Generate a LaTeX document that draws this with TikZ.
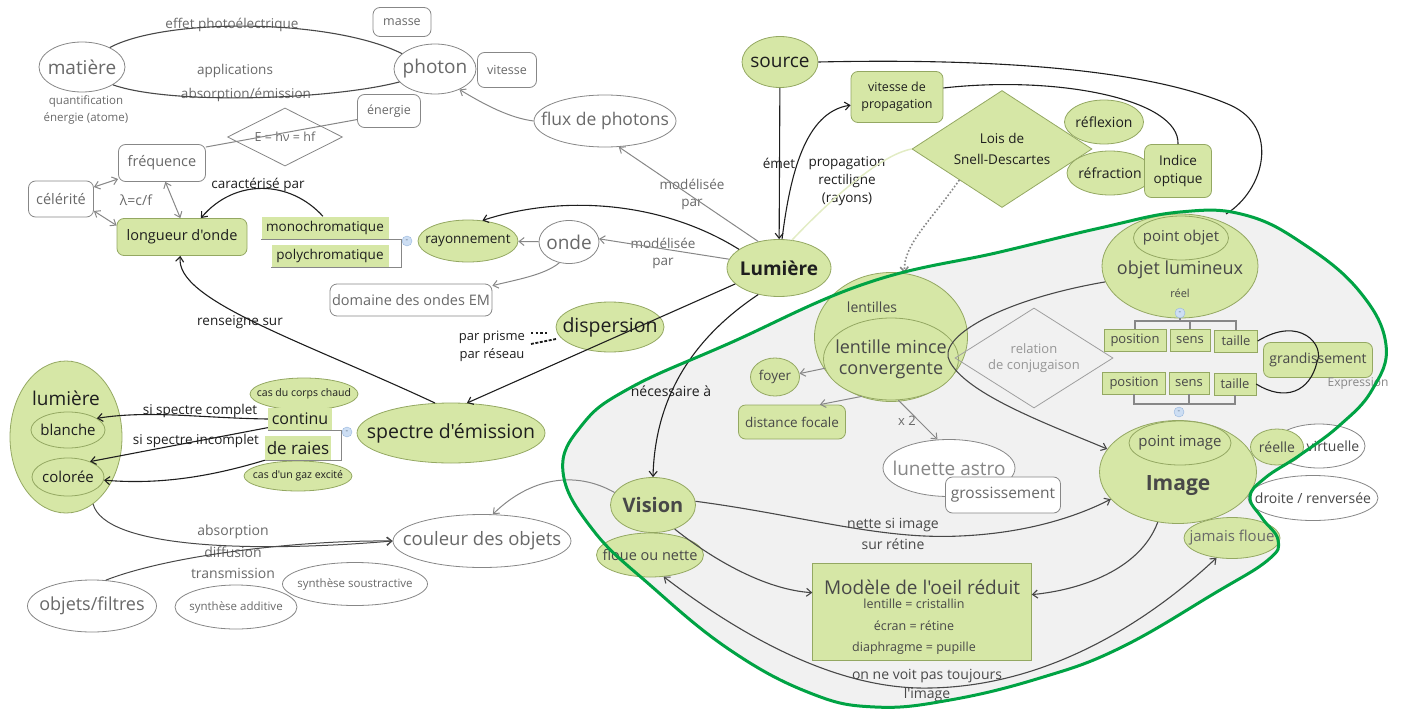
\documentclass[tikz,border=0pt]{standalone}
\usepackage{fontspec}
\setmainfont{Open Sans}[Ligatures=TeXOff]
\usetikzlibrary{shapes.geometric,arrows.meta}

\definecolor{leaf}{RGB}{214,231,166}
\definecolor{leafline}{RGB}{148,168,98}
\definecolor{ink}{RGB}{30,30,30}
\definecolor{soft}{RGB}{72,72,72}
\definecolor{ghostline}{RGB}{135,135,135}
\definecolor{ghosttext}{RGB}{105,105,105}
\definecolor{zonefill}{RGB}{241,241,241}
\definecolor{zoneline}{RGB}{0,163,68}
\definecolor{knobfill}{RGB}{205,222,243}
\definecolor{knobline}{RGB}{150,182,222}
\definecolor{palegreen}{RGB}{226,236,196}

\begin{document}
\begin{tikzpicture}[x=1pt, y=-1pt, >={Straight Barb[length=5pt,width=8pt]},
  every node/.style={text=ink, align=center, inner sep=0pt},
  fsz/.style={font=\fontsize{#1}{#1}\selectfont},
  tight/.style={inner xsep=-80pt, inner ysep=-30pt},
  leaf/.style={ellipse, tight, draw=leafline, fill=leaf, line width=0.8pt},
  leafbox/.style={rectangle, rounded corners=7pt, draw=leafline, fill=leaf, line width=0.8pt},
  leafrect/.style={rectangle, fill=leaf},
  leafdiam/.style={diamond, tight, draw=leafline, fill=leaf, line width=0.8pt},
  ghost/.style={ellipse, tight, draw=ghostline, fill=white, text=ghosttext, line width=0.8pt},
  ghostbox/.style={rectangle, rounded corners=7pt, draw=ghostline, fill=white, text=ghosttext, line width=0.8pt},
  note/.style={text=ghosttext},
  knob/.style={circle, draw=knobline, fill=knobfill, minimum size=10pt, fsz=8, text=knobline!60!black},
  lnk/.style={draw=ink, line width=1.1pt},
  glnk/.style={draw=ghostline, line width=1pt},
  brk/.style={draw=ghostline, line width=1.2pt}
]
  \useasboundingbox (0,0) rectangle (1402,709);

  % optics zone (filled first, outline drawn last)
  \fill[zonefill, save path=\zonepath] plot[smooth cycle, tension=0.7] coordinates {
    (563,472) (582,425) (630,388) (730,343) (867,283) (1000,252) (1100,228)
    (1180,212) (1245,215) (1305,245) (1360,292) (1386,345) (1372,390)
    (1340,425) (1300,455) (1265,478) (1250,497) (1262,518) (1278,540)
    (1268,560) (1215,593) (1120,648) (1040,678) (950,700) (875,707)
    (810,693) (730,650) (650,585) (593,530)};
  \coordinate (zonetop) at (1226,214);

  % photon / matiere
  \node[ghost, minimum width=86, minimum height=50, fsz=19] (matiere) at (82,67) {matière};
  \node[ghost, minimum width=82, minimum height=50, fsz=19] (photon) at (435,69) {photon};
  \node[ghostbox, minimum width=58, minimum height=29, fsz=12.5] (masse) at (402,22) {masse};
  \node[ghostbox, minimum width=59, minimum height=35, fsz=12.5] (vitesse) at (507,70) {vitesse};
  \node[ghostbox, minimum width=63, minimum height=33, fsz=12.5] (energie) at (389,111) {énergie};
  \node[note, font=\fontsize{11.5}{17}\selectfont] (quantif) at (86,110) {quantification\\énergie (atome)};
  \node[note, fsz=13.5] (effet) at (232,25) {effet photoélectrique};
  \node[note, fsz=13.5] (applis) at (235,71) {applications};
  \node[note, fsz=13.5] (absem) at (246,95) {absorption/émission};
  \draw[lnk, draw=soft] (matiere.35) .. controls (165,18) and (330,18) .. (photon.155);
  \draw[lnk, draw=soft] (matiere.-30) .. controls (170,105) and (330,100) .. (photon.-160);

  % frequence, celerite, longueur d'onde
  \node[diamond, tight, draw=ghostline, fill=white, text=ghosttext, line width=0.8pt,
        minimum width=115, minimum height=58, fsz=12.5] (formule) at (285,137) {E = hν = hf};
  \node[ghostbox, minimum width=87, minimum height=37, fsz=14.5] (frequence) at (162,163) {fréquence};
  \draw[glnk] (frequence.20) -- (energie.195);
  \node[ghostbox, minimum width=65, minimum height=36, fsz=14.5] (celerite) at (61,199) {célérité};
  \node[note, fsz=14] (lambda) at (136,200) {λ=c/f};
  \node[leafbox, minimum width=130, minimum height=37, fsz=14.5] (longueur) at (182,237) {longueur d'onde};
  \draw[glnk, <->] (celerite.20) -- (frequence.200);
  \draw[glnk, <->] (celerite.-20) -- (longueur.170);
  \draw[glnk, <->] (frequence.-80) -- (longueur.95);

  % rayonnement and its kinds
  \node[leafrect, minimum width=127, minimum height=23, fsz=13.5] (mono) at (325,228) {monochromatique};
  \node[leafrect, minimum width=117, minimum height=22, fsz=13.5] (poly) at (330,256) {polychromatique};
  \node[knob] (knobray) at (407,241) {-};
  \draw[brk] (mono.south west) -| (knobray.west |- poly.south) -- (poly.south west);
  \node[fsz=13.5] (caract) at (258,185) {caractérisé par};
  \draw[lnk, ->] (mono.100) .. controls (290,180) and (235,178) .. (longueur.45);
  \node[leaf, minimum width=100, minimum height=42, fsz=13.5] (rayon) at (468,241) {rayonnement};
  \node[ghost, minimum width=60, minimum height=43, fsz=19] (onde) at (569,242) {onde};
  \node[ghostbox, minimum width=162, minimum height=32, fsz=14.5] (domaine) at (411,300) {domaine des ondes EM};
  \draw[glnk, ->] (onde) -- (rayon);
  \draw[glnk, ->] (onde.-115) .. controls (545,275) and (515,280) .. (domaine.10);

  % flux de photons
  \node[ghost, minimum width=142, minimum height=52, fsz=17.5] (flux) at (605,121) {flux de photons};
  \draw[glnk, ->] (flux.west) .. controls (510,118) and (485,105) .. (photon.-40);

  % Lumiere and source
  \node[leaf, minimum width=104, minimum height=57, font=\bfseries\fontsize{19}{19}\selectfont] (lumiere) at (779,268) {Lumière};
  \node[note, font=\fontsize{13.5}{17}\selectfont] (modonde) at (663,253) {modélisée\\par};
  \node[note, font=\fontsize{13.5}{17}\selectfont] (modflux) at (692,194) {modélisée\\par};
  \draw[glnk, ->] (lumiere.170) -- (onde.6);
  \draw[glnk, ->] (lumiere.128) -- (flux.-62);
  \draw[lnk, ->] (lumiere.155) .. controls (660,200) and (560,195) .. (rayon.55);
  \node[leaf, minimum width=76, minimum height=51, fsz=19] (source) at (780,62) {source};
  \node[fsz=13.5] (emet) at (779,163) {émet};
  \draw[lnk, ->] (source) -- (lumiere);
  \node[leafbox, minimum width=92, minimum height=51, font=\fontsize{12.5}{17}\selectfont] (vitprop) at (897,97) {vitesse de\\propagation};
  \draw[lnk, ->] (lumiere.84) .. controls (790,175) and (805,112) .. (vitprop.190);
  \node[font=\fontsize{13.5}{18}\selectfont] (rectil) at (847,181) {propagation\\rectiligne\\(rayons)};

  % Snell-Descartes
  \node[leafdiam, minimum width=180, minimum height=117, font=\fontsize{13.5}{21}\selectfont] (snell) at (1002,149) {Lois de\\Snell-Descartes};
  \draw[palegreen, line width=1.5pt] (lumiere.65) .. controls (830,200) and (880,155) .. (snell.west);
  \node[leaf, minimum width=79, minimum height=44, fsz=14] (reflexion) at (1104,122) {réflexion};
  \node[leaf, minimum width=86, minimum height=44, fsz=14] (refraction) at (1110,173) {réfraction};
  \node[leafbox, minimum width=67, minimum height=53, font=\fontsize{13.5}{18}\selectfont] (indice) at (1178,171) {Indice\\optique};
  \draw[lnk] (vitprop.11) .. controls (1060,75) and (1180,100) .. (indice.north);
  \draw[lnk] (source.east) .. controls (1000,58) and (1150,70) .. (1230,105)
    .. controls (1280,127) and (1265,190) .. (zonetop);

  % lenses
  \node[leaf, minimum width=153, minimum height=129] (lentilles) at (891,337) {};
  \node[fsz=14, text=soft] (lentnom) at (872,307) {lentilles};
  \node[leaf, minimum width=135, minimum height=82, font=\fontsize{18}{21}\selectfont, text=soft] (mince) at (891,359) {lentille mince\\convergente};
  \draw[ghostline, dotted, line width=1.6pt, ->] (snell.-144) .. controls (930,222) and (903,245) .. (lentilles.78);
  \node[leaf, minimum width=49, minimum height=38, fsz=13.5, text=soft] (foyer) at (775,377) {foyer};
  \node[leafbox, minimum width=107, minimum height=34, fsz=13.5, text=soft] (focale) at (792,422) {distance focale};
  \draw[glnk, ->] (mince.188) -- (foyer.8);
  \draw[glnk, ->] (mince.232) -- (focale.32);
  \node[ghost, minimum width=132, minimum height=57, fsz=19, text=ghosttext!80] (lunette) at (949,468) {lunette astro};
  \node[ghostbox, minimum width=115, minimum height=36, fsz=15.5] (grossi) at (1003,495) {grossissement};
  \node[note, fsz=13] (fois) at (907,421) {x 2};
  \draw[glnk, ->] (mince.-80) -- (lunette.112);
  \node[diamond, tight, draw=ghostline!80, text=ghosttext!70, line width=0.8pt, minimum width=158,
        minimum height=100, font=\fontsize{13}{16}\selectfont] (conjug) at (1034,358) {relation\\de conjugaison};

  % objet lumineux
  \node[leaf, minimum width=156, minimum height=104] (objet) at (1180,266) {};
  \node[leaf, minimum width=95, minimum height=44, fsz=15, text=soft] (pointobj) at (1181,238) {point objet};
  \node[fsz=18, text=soft] (objetnom) at (1180,270) {objet lumineux};
  \node[fsz=11, text=soft] (reel) at (1180,293) {réel};
  \node[knob] (knobobj) at (1180,313) {-};
  \node[leafrect, draw=leafline, minimum width=62, minimum height=22, fsz=13, text=soft] (pos1) at (1135,340) {position};
  \node[leafrect, draw=leafline, minimum width=40, minimum height=22, fsz=13, text=soft] (sens1) at (1190,340) {sens};
  \node[leafrect, draw=leafline, minimum width=43, minimum height=22, fsz=13, text=soft] (taille1) at (1236,341) {taille};
  \node[leafrect, draw=leafline, minimum width=63, minimum height=22, fsz=13, text=soft] (pos2) at (1134,383) {position};
  \node[leafrect, draw=leafline, minimum width=40, minimum height=22, fsz=13, text=soft] (sens2) at (1189,383) {sens};
  \node[leafrect, draw=leafline, minimum width=42, minimum height=22, fsz=13, text=soft] (taille2) at (1235,384) {taille};
  \coordinate (bar1) at (1180,321);
  \coordinate (bar2) at (1179,404);
  \draw[brk] (knobobj.south) -- (bar1);
  \draw[brk] (pos1.north) |- (bar1) -| (taille1.north);
  \draw[brk] (sens1.north) -- (sens1.north |- bar1);
  \draw[brk] (pos2.south) |- (bar2) -| (taille2.south);
  \draw[brk] (sens2.south) -- (sens2.south |- bar2);
  \node[knob] (knobimg) at (1179,412) {-};
  \node[leafbox, minimum width=109, minimum height=35, fsz=14, text=soft] (grandis) at (1318,360) {grandissement};
  \draw[lnk] (taille1.east) .. controls (1300,315) and (1325,345) .. (1317,362)
    .. controls (1310,392) and (1285,402) .. (taille2.east);
  \node[note, fsz=12, text=ghosttext!80] (express) at (1358,384) {Expression};

  % image
  \node[leaf, minimum width=157, minimum height=103] (image) at (1178,472) {};
  \node[leaf, minimum width=102, minimum height=44, fsz=15, text=soft] (pointimg) at (1180,443) {point image};
  \node[font=\bfseries\fontsize{21}{21}\selectfont, text=soft] (imagenom) at (1178,486) {Image};
  \node[ghost, minimum width=92, minimum height=44] (virtuelle) at (1319,446) {};
  \node[leaf, minimum width=53, minimum height=36, fsz=14, text=soft] (reelle) at (1277,447) {réelle};
  \node[fsz=14, text=soft] (virtnom) at (1333,446) {virtuelle};
  \node[ghost, minimum width=130, minimum height=45, fsz=14, text=soft] (droite) at (1313,498) {droite / renversée};
  \node[leaf, minimum width=96, minimum height=41, fsz=15, text=ghosttext] (jamais) at (1232,538) {jamais floue};
  \draw[lnk, draw=soft, ->] (objet.192) .. controls (1000,300) and (935,338) .. (950,362)
    .. controls (968,395) and (1050,425) .. (image.162);

  % vision and the eye model
  \node[leaf, minimum width=85, minimum height=55, font=\bfseries\fontsize{20}{20}\selectfont, text=soft] (vision) at (653,505) {Vision};
  \node[leaf, minimum width=107, minimum height=44, fsz=14.5, text=soft] (floue) at (650,555) {floue ou nette};
  \node[leafrect, draw=leafline, minimum width=219, minimum height=97] (modele) at (922,612) {};
  \node[fsz=19, text=soft] (modtitre) at (922,587) {Modèle de l'oeil réduit};
  \node[font=\fontsize{12.5}{21.5}\selectfont, text=soft] (modlignes) at (914,627) {lentille = cristallin\\écran = rétine\\diaphragme = pupille};
  \draw[lnk, ->] (lumiere.-128) .. controls (690,340) and (655,400) .. (vision.north);
  \node[fsz=14] (necess) at (671,391) {nécessaire à};
  \draw[lnk, draw=soft, ->] (vision.5) .. controls (800,515) and (880,540) .. (960,536)
    .. controls (1030,533) and (1080,515) .. (image.202);
  \node[font=\fontsize{14}{21}\selectfont, text=soft] (nette) at (893,534) {nette si image\\sur rétine};
  \draw[lnk, draw=soft, ->] (vision.-48) .. controls (720,565) and (770,590) .. (modele.170);
  \draw[lnk, draw=soft, ->] (image.-112) .. controls (1140,570) and (1080,590) .. (modele.9);
  \draw[lnk, draw=soft, <->] (floue.-58) .. controls (760,650) and (850,690) .. (930,688)
    .. controls (1050,686) and (1150,620) .. (jamais.-128);
  \node[font=\fontsize{14}{19}\selectfont, text=soft] (voit) at (927,686) {on ne voit pas toujours\\l'image};

  % spectra and colours
  \node[leaf, minimum width=112, minimum height=152] (lumblanche) at (66,437) {};
  \node[fsz=19] (lumnom) at (66,398) {lumière};
  \node[leaf, minimum width=74, minimum height=36, fsz=15] (blanche) at (68,430) {blanche};
  \node[leaf, minimum width=72, minimum height=38, fsz=15] (coloree) at (68,477) {colorée};
  \node[leaf, minimum width=108, minimum height=32, fsz=10.5] (chaud) at (304,394) {cas du corps chaud};
  \node[leafrect, minimum width=64, minimum height=23, fsz=16] (continu) at (300,419) {continu};
  \node[leafrect, minimum width=66, minimum height=24, fsz=17] (raies) at (298,448) {de raies};
  \node[leaf, minimum width=108, minimum height=30, fsz=10.5] (gaz) at (298,476) {cas d'un gaz excité};
  \node[knob] (knobspec) at (347,432) {-};
  \draw[brk] (continu.south west) -| (knobspec.west |- raies.south) -- (raies.south west);
  \node[leaf, minimum width=188, minimum height=60, fsz=19.5] (spectre) at (451,433) {spectre d'émission};
  \node[fsz=13.5] (complet) at (200,411) {si spectre complet};
  \node[fsz=13.5] (incomplet) at (196,441) {si spectre incomplet};
  \draw[lnk, ->] (continu.west) .. controls (200,418) and (150,410) .. (blanche.22);
  \draw[lnk, ->] (continu.195) -- (coloree.35);
  \draw[lnk, ->] (raies.south west) .. controls (200,480) and (150,484) .. (coloree.-5);
  \draw[lnk, ->] (spectre.118) .. controls (300,340) and (175,300) .. (longueur.-95);
  \node[fsz=13.5] (renseigne) at (240,322) {renseigne sur};
  \node[leaf, minimum width=108, minimum height=50, fsz=19.5] (dispersion) at (610,327) {dispersion};
  \draw[lnk, ->] (lumiere.200) -- (spectre.62);
  \node[fsz=13] (prisme) at (492,337) {par prisme};
  \node[fsz=13] (reseau) at (492,355) {par réseau};
  \coordinate (dotA) at (531,333);
  \coordinate (dotB) at (548,333);
  \coordinate (dotC) at (531,344);
  \coordinate (dotD) at (556,339);
  \draw[ink, line width=2.2pt, dash pattern=on 2.2pt off 2.5pt] (dotA) -- (dotB);
  \draw[ink, line width=1.8pt, dash pattern=on 3pt off 1.5pt] (dotC) -- (dotD);

  \node[ghost, minimum width=178, minimum height=53, fsz=18.5] (couleur) at (482,541) {couleur des objets};
  \node[ghost, minimum width=129, minimum height=52, fsz=18] (objets) at (92,606) {objets/filtres};
  \node[ghost, minimum width=145, minimum height=43, fsz=11.5] (soustr) at (355,584) {synthèse soustractive};
  \node[ghost, minimum width=122, minimum height=44, fsz=11.5] (additive) at (236,607) {synthèse additive};
  \node[note, font=\fontsize{14}{21.5}\selectfont] (absdiff) at (233,552) {absorption\\diffusion\\transmission};
  \draw[glnk, draw=soft, ->] (lumblanche.-68) .. controls (105,548) and (250,553) .. (couleur.west);
  \draw[glnk, draw=soft, ->] (objets.62) .. controls (170,555) and (300,540) .. (couleur.west);
  \draw[glnk, ->] (vision.162) .. controls (575,470) and (530,478) .. (couleur.68);

  % zone outline on top
  \draw[zoneline, line width=3pt, use path=\zonepath];
\end{tikzpicture}
\end{document}
